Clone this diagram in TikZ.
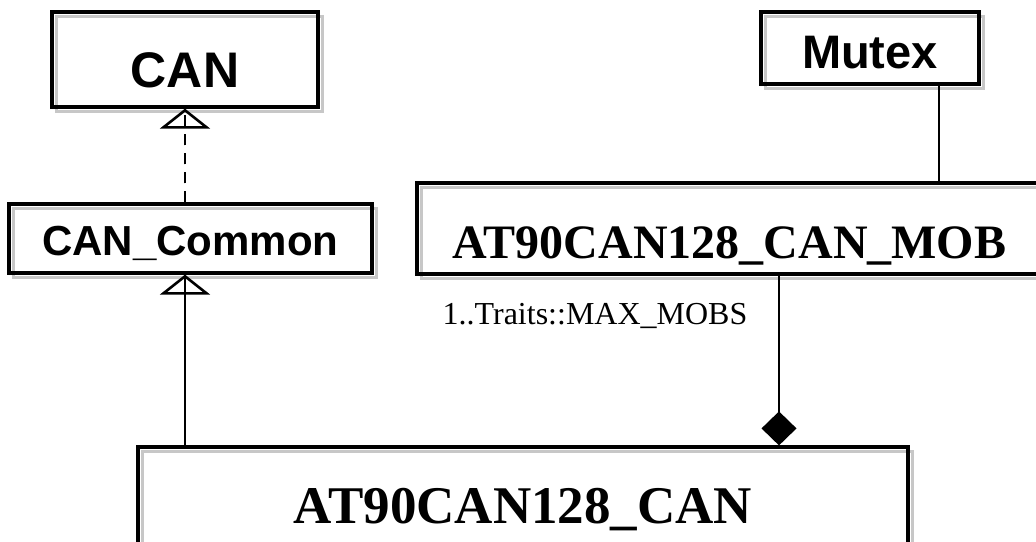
\documentclass[tikz,border=0pt]{standalone}
\usepackage{fontspec}
\setmainfont{Liberation Serif}
\newfontfamily\arialfont{Liberation Sans}
\usetikzlibrary{arrows.meta}

\begin{document}
\begin{tikzpicture}[x=1pt, y=-1pt,
    umlbox/.style={draw, line width=3.2pt, inner sep=0pt, text depth=0pt,
      preaction={draw=black!22, line width=2.5pt,
        transform canvas={shift={(4.5pt,-4.5pt)}}}},
    sansname/.style={umlbox, font=\arialfont\bfseries\fontsize{#1}{#1}\selectfont},
    serifname/.style={umlbox, font=\bfseries\fontsize{#1}{#1}\selectfont},
    realizes/.style={line width=2.6pt, dash pattern=on 11pt off 8pt,
      -{Triangle[open, length=20pt, width=50pt]}, postaction={draw, -}},
    inherits/.style={line width=2.6pt, -{Triangle[open, length=20pt, width=50pt]},
      postaction={draw, -}},
    composes/.style={line width=2.6pt, -{Diamond[length=34pt, width=35pt]}}]
    \useasboundingbox (0,0) rectangle (1036,541);
    \clip (0,0) rectangle (1036,541);
    % classes
    \node[sansname=50pt, minimum width=266pt, minimum height=95pt, text height=55pt]
      (can) at (185,59.5) {CAN};
    \node[sansname=42pt, minimum width=363pt, minimum height=69pt, text height=33pt]
      (common) at (190.5,238.5) {CAN\_Common};
    \node[sansname=47pt, minimum width=218pt, minimum height=72pt, text height=40pt]
      (mutex) at (870,48) {Mutex};
    \node[serifname=48pt, minimum width=625pt, minimum height=91pt, text height=59pt]
      (mob) at (729.5,228.5) {AT90CAN128\_CAN\_MOB};
    \node[serifname=53pt, minimum width=770pt, minimum height=101pt, text height=51pt]
      (at90) at (523,497.5) {AT90CAN128\_CAN};
    % relations
    \path (common.north -| can.south) edge [realizes] (can.south);
    \path (at90.north -| can.south) edge [inherits] (common.south -| can.south);
    \path (mutex.south -| 939,0) edge [line width=2.6pt] (mob.north -| 939,0);
    \path (mob.south -| 779,0) edge [composes]
      node [at start, anchor=base east, shift={(-27pt,-49pt)},
        font=\fontsize{32pt}{32pt}\selectfont] {1..Traits::MAX\_MOBS}
      (at90.north -| 779,0);
\end{tikzpicture}
\end{document}
